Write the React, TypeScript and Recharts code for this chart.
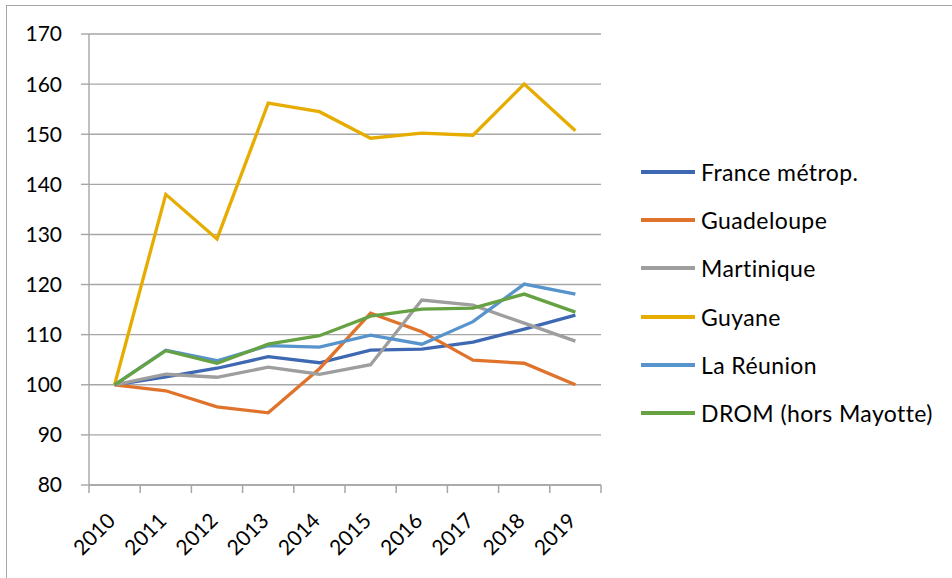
import { CartesianGrid, Line, LineChart, XAxis, YAxis } from "recharts";

const years = ["2010", "2011", "2012", "2013", "2014", "2015", "2016", "2017", "2018", "2019"];

const franceMetrop = [100, 101.6, 103.3, 105.6, 104.4, 106.9, 107.1, 108.5, 111.1, 113.9];
const guadeloupe = [100, 98.8, 95.6, 94.4, 103.2, 114.3, 110.6, 104.9, 104.3, 100];
const martinique = [100, 102.1, 101.5, 103.5, 102.1, 104, 116.9, 115.9, 112.3, 108.7];
const guyane = [100, 138, 129.1, 156.2, 154.5, 149.2, 150.2, 149.8, 160, 150.7];
const laReunion = [100, 106.9, 104.8, 107.8, 107.5, 109.9, 108.1, 112.6, 120.1, 118.1];
const drom = [100, 106.8, 104.3, 108.1, 109.8, 113.7, 115.1, 115.3, 118.1, 114.5];

const yTicks = [80, 90, 100, 110, 120, 130, 140, 150, 160, 170];

const series = [
  { key: "france", name: "France métrop.", values: franceMetrop, color: "#3F68B3" },
  { key: "guadeloupe", name: "Guadeloupe", values: guadeloupe, color: "#E0732B" },
  { key: "martinique", name: "Martinique", values: martinique, color: "#9E9E9E" },
  { key: "guyane", name: "Guyane", values: guyane, color: "#E6AC00" },
  { key: "reunion", name: "La Réunion", values: laReunion, color: "#5894CC" },
  { key: "drom", name: "DROM (hors Mayotte)", values: drom, color: "#66A243" },
];

const data = years.map((year, i) => {
  const row: Record<string, string | number> = { year };
  series.forEach((s) => {
    row[s.key] = s.values[i];
  });
  return row;
});

const GRID = "#A6A6A6";
const FONT = "Lato, 'Open Sans', sans-serif";

// Excel-style category tick: marks sit on the band edges, labels rotated
function YearTick(props: any) {
  const { x, y, payload, index, visibleTicksCount } = props;
  const half = payload && payload.offset ? payload.offset : 25.6;
  const isLast = index === visibleTicksCount - 1;
  const tx = x + 2;
  const ty = y + 37;
  return (
    <g>
      <line x1={x - half} x2={x - half} y1={y} y2={y + 8} stroke={GRID} strokeWidth={1.5} />
      {isLast && <line x1={x + half} x2={x + half} y1={y} y2={y + 8} stroke={GRID} strokeWidth={1.5} />}
      <text
        x={tx}
        y={ty}
        transform={`rotate(-45 ${tx} ${ty})`}
        textAnchor="end"
        fill="#000"
        fontSize={21}
        fontFamily={FONT}
      >
        {payload.value}
      </text>
    </g>
  );
}

export default function App() {
  return (
    <div
      style={{
        position: "fixed",
        left: 0,
        top: 0,
        width: 952,
        height: 578,
        overflow: "hidden",
        background: "#fff",
        fontFamily: FONT,
      }}
    >
      {/* chart frame, only top and left edges are visible */}
      <div
        style={{
          position: "absolute",
          left: 6,
          top: 5,
          width: 980,
          height: 600,
          border: "1.5px solid #A6A6A6",
        }}
      />

      <div style={{ position: "absolute", left: 0, top: 0 }}>
        <LineChart width={952} height={578} data={data} margin={{ top: 34, right: 351, bottom: 0, left: 0 }}>
          <CartesianGrid vertical={false} stroke={GRID} strokeWidth={1.4} />
          <XAxis
            dataKey="year"
            scale="band"
            interval={0}
            height={93}
            tickSize={0}
            tickMargin={0}
            tickLine={false}
            axisLine={{ stroke: GRID, strokeWidth: 1.4 }}
            tick={<YearTick />}
          />
          <YAxis
            domain={[80, 170]}
            ticks={yTicks}
            interval={0}
            width={89}
            tickSize={8}
            tickMargin={19}
            axisLine={{ stroke: GRID, strokeWidth: 1.4 }}
            tickLine={{ stroke: GRID, strokeWidth: 1.4 }}
            tick={{ fill: "#000", fontSize: 21, fontFamily: FONT }}
          />
          {series.map((s) => (
            <Line
              key={s.key}
              dataKey={s.key}
              name={s.name}
              type="linear"
              stroke={s.color}
              strokeWidth={3.3}
              dot={false}
              activeDot={false}
              isAnimationActive={false}
            />
          ))}
        </LineChart>
      </div>

      {/* legend */}
      <div style={{ position: "absolute", left: 641, top: 148 }}>
        {series.map((s) => (
          <div key={s.key} style={{ display: "flex", alignItems: "center", height: 48.2 }}>
            <div style={{ width: 54, height: 4, background: s.color, marginRight: 6 }} />
            <span style={{ fontSize: 23, letterSpacing: 0.4, color: "#000", whiteSpace: "nowrap" }}>{s.name}</span>
          </div>
        ))}
      </div>
    </div>
  );
}
